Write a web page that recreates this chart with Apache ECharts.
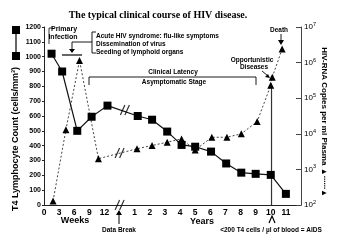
<!DOCTYPE html>
<html><head><meta charset="utf-8">
<script src="https://cdn.jsdelivr.net/npm/echarts@6/dist/echarts.min.js"></script>
<style>html,body{margin:0;padding:0;background:#fff}#c{width:352px;height:246px}</style>
</head><body><div id="c"></div>
<script>
// ---- data ----
const xTickLabels = ['0','3','6','9','12','','1','2','3','4','5','6','7','8','9','10','11',''];
const leftTicks = [0,100,200,300,400,500,600,700,800,900,1000,1100,1200];
const rightTickExponents = [2,3,4,5,6,7];
const t4X = [0.5,1.2,2.2,3.15,4.2,6.2,7.15,8.15,9.1,10.0,11.05,12.05,13.05,14.0,15.0,16.0];
const t4Count = [1020,900,500,595,670,600,575,495,405,393,360,280,218,210,203,75];
const rnaX = [0.6,1.45,2.35,3.6,6.15,7.15,8.15,9.1,10.0,11.1,12.1,13.05,14.1,15.0,15.1,15.75];
const rnaCopies = [130,13000,1150000,2000,3800,4700,5800,7200,3500,8000,8000,10000,22000,230000,390000,2400000];
const aidsX = [15.05,15.05];
const aidsY = [100,200000];
const breakT4 = [[5.35,640],[5.0,0]];
const breakRna = [[5.0,2900]];

const FONT = '"Liberation Sans", Arial, sans-serif';
const chart = echarts.init(document.getElementById('c'), null, {renderer:'canvas'});
const brk = 'path://M0,10L4,0M4,10L8,0';

chart.setOption({
  animation:false,
  backgroundColor:'#fff',
  grid:{left:44,right:51,top:27,bottom:41},
  xAxis:{type:'value',min:0,max:17,interval:1,
    axisLine:{lineStyle:{color:'#222',width:1}},
    axisTick:{show:false},splitLine:{show:false},
    axisLabel:{margin:3,color:'#000',fontWeight:'bold',fontSize:8.5,fontFamily:FONT,
      formatter:v=>xTickLabels[Math.round(v)]||''}},
  yAxis:[
    {type:'value',min:leftTicks[0],max:leftTicks[leftTicks.length-1],interval:100,position:'left',
     axisLine:{show:true,lineStyle:{color:'#222'}},axisTick:{show:true,length:2,lineStyle:{color:'#222'}},
     splitLine:{show:false},
     axisLabel:{margin:3,color:'#000',fontWeight:'bold',fontSize:7,fontFamily:FONT,formatter:v=>String(v)}},
    {type:'log',logBase:10,min:100,max:10000000,position:'right',
     axisLine:{show:true,lineStyle:{color:'#444'}},axisTick:{show:true,inside:true,length:5,lineStyle:{color:'#444'}},
     splitLine:{show:false},
     axisLabel:{margin:3,color:'#000',fontFamily:FONT,
       formatter:v=>{const e=Math.round(Math.log10(v));return rightTickExponents.indexOf(e)>=0?'{b|10}{s|'+e+'}':'';},
       rich:{b:{fontSize:8,fontFamily:FONT,color:'#000'},s:{fontSize:5.5,fontFamily:FONT,color:'#000',verticalAlign:'top',padding:[0,0,5,0]}}}}
  ],
  series:[
    {type:'line',yAxisIndex:1,data:rnaX.map((x,i)=>[x,rnaCopies[i]]),symbol:'triangle',symbolSize:7,
     lineStyle:{color:'#444',width:1,type:[2,2]},itemStyle:{color:'#000'},z:3},
    {type:'line',yAxisIndex:0,data:t4X.map((x,i)=>[x,t4Count[i]]),symbol:'rect',symbolSize:8,
     lineStyle:{color:'#111',width:1.2},itemStyle:{color:'#000'},z:4},
    {type:'line',yAxisIndex:1,data:aidsX.map((x,i)=>[x,aidsY[i]]),symbol:'none',
     lineStyle:{color:'#333',width:1.2},z:2},
    {type:'scatter',yAxisIndex:0,data:breakT4,symbol:brk,symbolSize:[9,10],
     itemStyle:{color:'none',borderColor:'#000',borderWidth:1.3},z:5},
    {type:'scatter',yAxisIndex:1,data:breakRna,symbol:brk,symbolSize:[9,10],
     itemStyle:{color:'none',borderColor:'#000',borderWidth:1.3},z:5}
  ],
  graphic:[
    {type:'text',x:158,y:15,style:{text:'The typical clinical course of HIV disease.',font:'bold 10px "Liberation Serif", serif',fill:'#000',align:'center',verticalAlign:'middle',textAlign:'center',textVerticalAlign:'middle'}},
    {type:'text',x:16,y:139,rotation:Math.PI/2,style:{text:'T4 Lymphocyte Count (cells/mm³)',font:'bold 9px '+FONT,fill:'#000',align:'center',verticalAlign:'middle',textAlign:'center',textVerticalAlign:'middle'}},
    {type:'text',x:324,y:122,rotation:-Math.PI/2,style:{text:'HIV-RNA Copies per ml Plasma ▲∙∙∙∙∙∙▲',font:'bold 8px '+FONT,fill:'#000',align:'center',verticalAlign:'middle',textAlign:'center',textVerticalAlign:'middle'}},
    {type:'line',shape:{x1:16,y1:30,x2:16,y2:56},style:{stroke:'#000',lineWidth:1.2}},
    {type:'rect',shape:{x:12,y:26,width:8,height:8},style:{fill:'#000'}},
    {type:'rect',shape:{x:12,y:52,width:8,height:8},style:{fill:'#000'}},
    // primary infection
    {type:'text',x:64,y:29,style:{text:'Primary',font:'bold 7px '+FONT,fill:'#000',align:'center',verticalAlign:'middle',textAlign:'center',textVerticalAlign:'middle'}},
    {type:'text',x:63,y:37,style:{text:'Infection',font:'bold 7px '+FONT,fill:'#000',align:'center',verticalAlign:'middle',textAlign:'center',textVerticalAlign:'middle'}},
    {type:'polyline',shape:{points:[[53,28],[49,28],[49,44]]},style:{stroke:'#000',lineWidth:0.8,fill:null}},
    // acute bracket
    {type:'polyline',shape:{points:[[96,32],[92,32],[92,53],[96,53]]},style:{stroke:'#000',lineWidth:0.9,fill:null}},
    {type:'polyline',shape:{points:[[92,42],[72,42],[72,50]]},style:{stroke:'#000',lineWidth:0.9,fill:null}},
    {type:'polygon',shape:{points:[[69,49],[75,49],[72,53]]},style:{fill:'#000'}},
    {type:'line',shape:{x1:62,y1:55,x2:82,y2:55},style:{stroke:'#000',lineWidth:1.2}},
    {type:'text',x:96,y:36,style:{text:'Acute HIV syndrome: flu-like symptoms',font:'bold 6.5px '+FONT,fill:'#000',align:'left',verticalAlign:'middle',textAlign:'left',textVerticalAlign:'middle'}},
    {type:'text',x:96,y:44,style:{text:'Dissemination of virus',font:'bold 6.5px '+FONT,fill:'#000',align:'left',verticalAlign:'middle',textAlign:'left',textVerticalAlign:'middle'}},
    {type:'text',x:96,y:52,style:{text:'Seeding of lymphoid organs',font:'bold 6.5px '+FONT,fill:'#000',align:'left',verticalAlign:'middle',textAlign:'left',textVerticalAlign:'middle'}},
    // clinical latency
    {type:'polyline',shape:{points:[[89,85],[89,77],[256,77],[256,85]]},style:{stroke:'#000',lineWidth:0.9,fill:null}},
    {type:'text',x:173,y:72,style:{text:'Clinical Latency',font:'bold 6.5px '+FONT,fill:'#000',align:'center',verticalAlign:'middle',textAlign:'center',textVerticalAlign:'middle'}},
    {type:'text',x:174,y:82,style:{text:'Asymptomatic Stage',font:'bold 6.5px '+FONT,fill:'#000',align:'center',verticalAlign:'middle',textAlign:'center',textVerticalAlign:'middle'}},
    // opportunistic
    {type:'text',x:252,y:60,style:{text:'Opportunistic',font:'bold 6.5px '+FONT,fill:'#000',align:'center',verticalAlign:'middle',textAlign:'center',textVerticalAlign:'middle'}},
    {type:'text',x:254,y:67,style:{text:'Diseases',font:'bold 6.5px '+FONT,fill:'#000',align:'center',verticalAlign:'middle',textAlign:'center',textVerticalAlign:'middle'}},
    {type:'line',shape:{x1:262,y1:71,x2:268,y2:76},style:{stroke:'#000',lineWidth:0.9}},
    {type:'polygon',shape:{points:[[270,78],[265,77],[268,74]]},style:{fill:'#000'}},
    // death
    {type:'text',x:279,y:30,style:{text:'Death',font:'bold 6.5px '+FONT,fill:'#000',align:'center',verticalAlign:'middle',textAlign:'center',textVerticalAlign:'middle'}},
    {type:'line',shape:{x1:281,y1:34,x2:281,y2:41},style:{stroke:'#000',lineWidth:0.9}},
    {type:'polygon',shape:{points:[[278,40],[284,40],[281,45]]},style:{fill:'#000'}},
    // bottom
    {type:'text',x:75,y:221,style:{text:'Weeks',font:'bold 9px '+FONT,fill:'#000',align:'center',verticalAlign:'middle',textAlign:'center',textVerticalAlign:'middle'}},
    {type:'text',x:202,y:222,style:{text:'Years',font:'bold 9px '+FONT,fill:'#000',align:'center',verticalAlign:'middle',textAlign:'center',textVerticalAlign:'middle'}},
    {type:'line',shape:{x1:119,y1:214,x2:119,y2:224},style:{stroke:'#000',lineWidth:1}},
    {type:'polygon',shape:{points:[[116,215],[122,215],[119,210]]},style:{fill:'#000'}},
    {type:'text',x:119,y:230,style:{text:'Data Break',font:'bold 6.5px '+FONT,fill:'#000',align:'center',verticalAlign:'middle',textAlign:'center',textVerticalAlign:'middle'}},
    {type:'polyline',shape:{points:[[269,223],[272,216],[275,223]]},style:{stroke:'#000',lineWidth:1.2,fill:null}},
    {type:'text',x:271,y:230,style:{text:'<200 T4 cells / µl of blood = AIDS',font:'bold 6.5px '+FONT,fill:'#000',align:'center',verticalAlign:'middle',textAlign:'center',textVerticalAlign:'middle'}}
  ]
});
</script></body></html>
